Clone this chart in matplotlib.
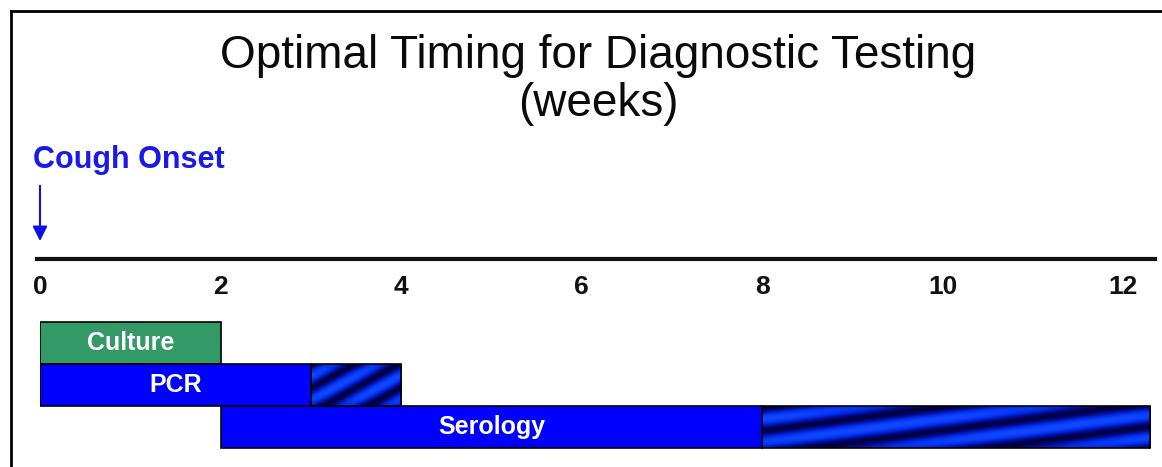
import numpy as np
import matplotlib.pyplot as plt
from matplotlib.colors import LinearSegmentedColormap
from matplotlib.patches import Rectangle
from matplotlib.lines import Line2D

plt.rcParams["font.family"] = ["Liberation Sans", "DejaVu Sans"]

tests = ["Culture", "PCR", "Serology"]
start = [0, 0, 2]
solid_end = [2, 3, 8]
extra_end = [None, 4, 12.3]
bar_colors = ["#339966", "#0000ff", "#0000ff"]
ticks = [0, 2, 4, 6, 8, 10, 12]
# stripe slope / vertical period (px) for the shaded part
stripe = [None, (0.55, 24), (0.13, 23)]

W, H = 1162, 467
fig = plt.figure(figsize=(W / 100, H / 100), dpi=100)

# axes geometry in pixels
x_left, x_right = 40, 1155
top_px, bot_px = 246, 452
xmax = 12.35
ax = fig.add_axes([x_left / W, (H - bot_px) / H, (x_right - x_left) / W, (bot_px - top_px) / H])
ax.set_xlim(0, xmax)
ax.set_ylim(2.6, -2.3)
ax.axis("off")
px_per_week = (x_right - x_left) / xmax
px_per_row = (bot_px - top_px) / 4.9

cmap = LinearSegmentedColormap.from_list("shade", ["#000045", "#0012a8", "#0030ee", "#1248ff"])

for i, name in enumerate(tests):
    ax.barh(i, solid_end[i] - start[i], left=start[i], height=1, color=bar_colors[i],
            edgecolor="black", linewidth=1.2, zorder=3)
    ax.text((start[i] + solid_end[i]) / 2, i, name, color="white", fontsize=18,
            fontweight="bold", ha="center", va="center", zorder=5)
    if extra_end[i] is not None:
        x0, x1 = solid_end[i], extra_end[i]
        w = int((x1 - x0) * px_per_week)
        h = int(px_per_row)
        xx, yy = np.meshgrid(np.arange(w), np.arange(h))
        s, p = stripe[i]
        val = 0.5 + 0.5 * np.sin(2 * np.pi * ((h - yy) - s * xx) / p)
        # darker towards top and bottom edges
        edge = 1 - 0.35 * (np.abs(yy - (h - 1) / 2) / ((h - 1) / 2)) ** 3
        val = val * edge
        im = ax.imshow(val, cmap=cmap, vmin=0, vmax=1, extent=(x0, x1, i + 0.5, i - 0.5),
                       aspect="auto", interpolation="bilinear", zorder=3)
        rect = Rectangle((x0, i - 0.5), x1 - x0, 1, facecolor="none", edgecolor="black",
                         linewidth=1.2, zorder=4)
        ax.add_patch(rect)
        im.set_clip_path(rect)

# timeline
ax.plot([-0.03, xmax], [-2, -2], color="#111111", linewidth=3, clip_on=False, zorder=2)
for t in ticks:
    ax.text(t, -1.33, str(t), fontsize=19, fontweight="bold", ha="center", va="center", color="#111111")

# cough onset arrow
ax.annotate("", xy=(0, -2.35), xytext=(0, -3.8), annotation_clip=False,
            arrowprops=dict(arrowstyle="-|>", color="#1010e0", lw=1.5, mutation_scale=22))
fig.text(33 / W, 1 - 160 / H, "Cough Onset", color="#1a1ae6", fontsize=22, fontweight="bold",
         ha="left", va="center")

fig.text(0.515, 1 - 56 / H, "Optimal Timing for Diagnostic Testing", fontsize=33,
         ha="center", va="center", color="#0a0a0a")
fig.text(0.515, 1 - 104 / H, "(weeks)", fontsize=33, ha="center", va="center", color="#0a0a0a")

# frame lines (left and top)
fig.add_artist(Line2D([11 / W, 11 / W], [0, 1 - 11 / H], color="black", linewidth=2))
fig.add_artist(Line2D([11 / W, 1], [1 - 11 / H, 1 - 11 / H], color="black", linewidth=2))

fig.savefig("out.png", dpi=100)
